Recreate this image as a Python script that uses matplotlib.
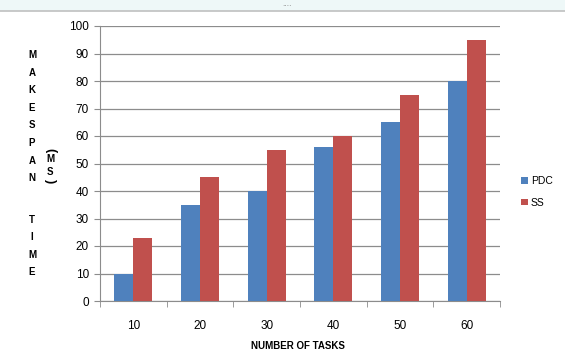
import numpy as np
import matplotlib.pyplot as plt

tasks = ["10", "20", "30", "40", "50", "60"]
pdc = [10, 35, 40, 56, 65, 80]
ss = [23, 45, 55, 60, 75, 95]

plt.rcParams['font.family'] = ['Liberation Sans', 'DejaVu Sans']

fig = plt.figure(figsize=(5.65, 3.56), dpi=100)
ax = fig.add_axes([100/565, 1-301/356, 400/565, 275/356])

x = np.arange(len(tasks))
w = 0.285
ax.bar(x - w/2, pdc, w, color='#4F81BD', label='PDC', zorder=3)
ax.bar(x + w/2, ss, w, color='#C0504D', label='SS', zorder=3)

ax.set_xlim(-0.5, len(tasks) - 0.5)
ax.set_ylim(0, 100)
ax.set_yticks(range(0, 101, 10))
ax.yaxis.grid(True, color='#8c8c8c', linewidth=0.9, zorder=0)
ax.set_xticks(x)
ax.set_xticklabels(tasks, fontsize=8.5)
ax.set_xticks(np.arange(-0.5, len(tasks)), minor=True)
ax.tick_params(axis='x', which='major', length=0, pad=14)
ax.tick_params(axis='x', which='minor', length=4, color='#8c8c8c')
ax.tick_params(axis='y', length=4, color='#8c8c8c', labelsize=8.5, pad=4)
for s in ['top', 'right']:
    ax.spines[s].set_visible(False)
for s in ['left', 'bottom']:
    ax.spines[s].set_color('#8c8c8c')

fig.text(298/565, 1-346/356, "NUMBER OF TASKS", fontsize=7, fontweight='bold',
         ha='center', va='center')

# stacked y label
letters = "MAKESPAN"
for i, ch in enumerate(letters):
    fig.text(32/565, 1-(55 + i*17.6)/356, ch, fontsize=7, fontweight='bold',
             ha='center', va='center')
for i, ch in enumerate("TIME"):
    fig.text(32/565, 1-(220 + i*17.3)/356, ch, fontsize=7, fontweight='bold',
             ha='center', va='center')
fig.text(50/565, 1-150/356, "(", fontsize=9, fontweight='bold', rotation=-90,
         ha='center', va='center')
fig.text(50/565, 1-159/356, "M", fontsize=7, fontweight='bold', ha='center', va='center')
fig.text(50/565, 1-172/356, "S", fontsize=7, fontweight='bold', ha='center', va='center')
fig.text(50/565, 1-181/356, ")", fontsize=9, fontweight='bold', rotation=-90,
         ha='center', va='center')

leg = fig.legend(loc='center left', bbox_to_anchor=(512/565, 1-192/356), frameon=False,
                 fontsize=7.5, handlelength=0.6, handleheight=0.6, handletextpad=0.3,
                 labelspacing=1.1)

# top strip
fig.patches.append(plt.Rectangle((0, 1-10/356), 1, 10/356, transform=fig.transFigure,
                                 color='#eef8f8', zorder=0))
fig.add_artist(plt.Line2D([0, 1], [1-11/356, 1-11/356], color='#c0c0c0', linewidth=1.2))
fig.text(287/565, 1-8/356, "....", fontsize=6, color='#7f7f7f', ha='center', va='bottom')

fig.savefig("out.png", dpi=100)
